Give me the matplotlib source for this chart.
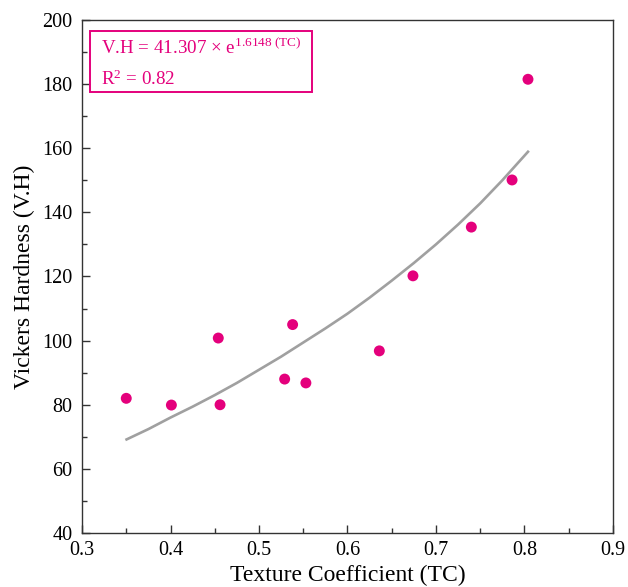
import matplotlib
matplotlib.use("Agg")
import matplotlib.pyplot as plt
from matplotlib.patches import Rectangle
from matplotlib.ticker import MultipleLocator

plt.rcParams['font.family'] = ['Liberation Serif', 'DejaVu Serif']
plt.rcParams['mathtext.fontset'] = 'custom'
plt.rcParams['mathtext.rm'] = 'Liberation Serif'
plt.rcParams['mathtext.it'] = 'Liberation Serif:italic'

# Measured data
tc = [0.350, 0.401, 0.454, 0.456, 0.529, 0.538, 0.553, 0.636, 0.674, 0.740, 0.786, 0.804]
vh = [82.0, 79.9, 100.8, 80.0, 88.0, 105.0, 86.8, 96.8, 120.2, 135.4, 150.1, 181.5]

# Fitted curve
fit_tc = [0.349, 0.375, 0.400, 0.425, 0.450, 0.475, 0.500, 0.525, 0.550, 0.575,
          0.600, 0.625, 0.650, 0.675, 0.700, 0.725, 0.750, 0.775, 0.805]
fit_vh = [69.0, 72.4, 76.0, 79.4, 83.0, 86.8, 90.9, 95.0, 99.4, 103.8,
          108.4, 113.4, 118.7, 124.2, 130.0, 136.2, 142.8, 150.0, 159.2]

eq_text = 'V.H = 41.307 × e$^{\\mathregular{1.6148\\ (TC)}}$'
r2_text = 'R$^{\\mathregular{2}}$ = 0.82'

pink = '#E4007C'
gray = '#A0A0A0'
spine_col = '#333333'

fig = plt.figure(figsize=(6.28, 5.87), dpi=100)
ax = fig.add_axes([0.1306, 0.092, 0.8454, 0.874])

ax.plot(fit_tc, fit_vh, color=gray, lw=1.9, zorder=2,
        solid_joinstyle='round', solid_capstyle='butt')
ax.scatter(tc, vh, s=62, color=pink, edgecolors='none', zorder=3)

ax.set_xlim(0.3, 0.9)
ax.set_ylim(40, 200)
ax.xaxis.set_major_locator(MultipleLocator(0.1))
ax.xaxis.set_minor_locator(MultipleLocator(0.05))
ax.yaxis.set_major_locator(MultipleLocator(20))
ax.yaxis.set_minor_locator(MultipleLocator(10))
ax.tick_params(which='both', direction='in', top=False, right=False,
               color=spine_col, width=1.0)
ax.tick_params(which='major', length=5.5, labelsize=14.5)
ax.tick_params(which='minor', length=3.5)
ax.tick_params(axis='x', which='major', pad=6)
ax.tick_params(axis='y', which='major', pad=7)
for s in ax.spines.values():
    s.set_color(spine_col)
    s.set_linewidth(1.0)

ax.set_xlabel('Texture Coefficient (TC)', fontsize=17, labelpad=3)
ax.set_ylabel('Vickers Hardness (V.H)', fontsize=17, labelpad=5)

ax.add_patch(Rectangle((0.015, 0.8596), 0.418, 0.119, transform=ax.transAxes,
                       fill=False, edgecolor=pink, lw=1.4, zorder=4))
ax.text(0.036, 0.945, eq_text, transform=ax.transAxes, color=pink,
        fontsize=13.7, va='center', ha='left')
ax.text(0.036, 0.885, r2_text, transform=ax.transAxes, color=pink,
        fontsize=13.7, va='center', ha='left')

fig.savefig('out.png', dpi=100)
